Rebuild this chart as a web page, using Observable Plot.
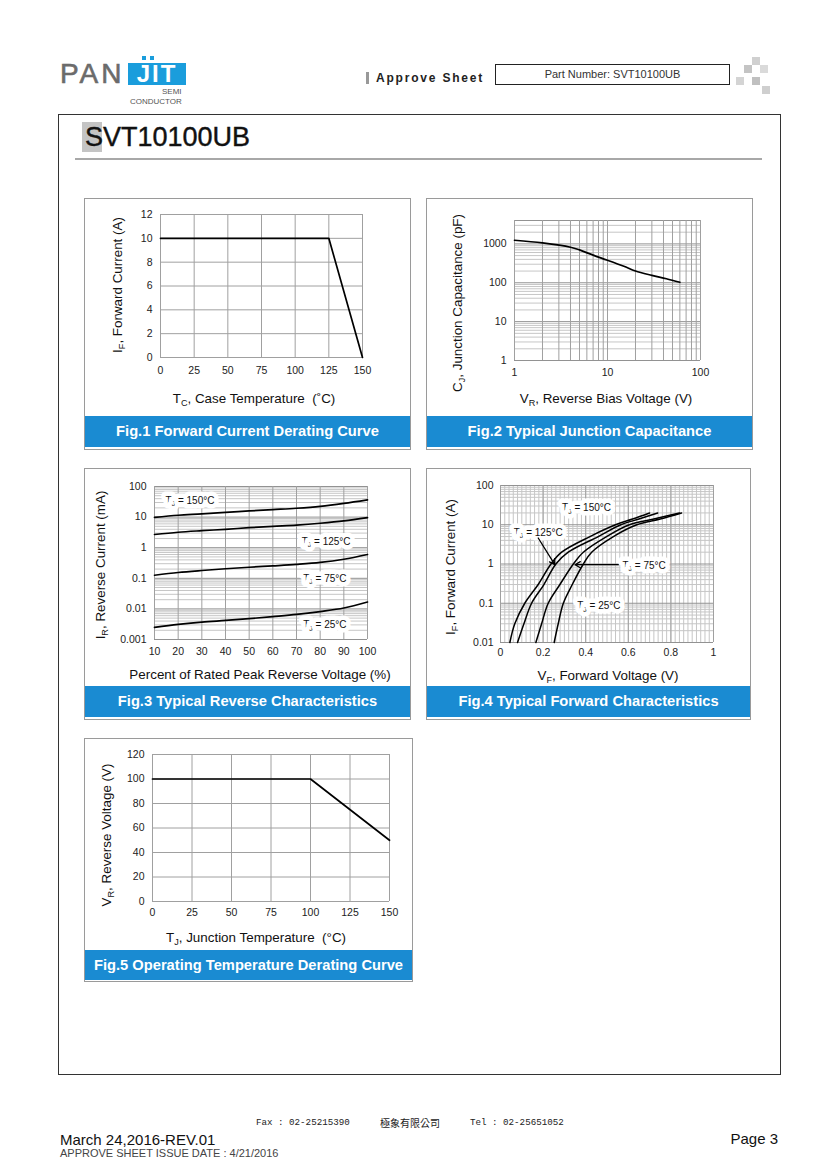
<!DOCTYPE html>
<html><head><meta charset="utf-8">
<script src="https://cdn.jsdelivr.net/npm/d3@7"></script>
<script src="https://cdn.jsdelivr.net/npm/@observablehq/plot@0.6"></script>
<style>
html,body{margin:0;padding:0;background:#fff;}
#page{position:relative;width:820px;height:1167px;overflow:hidden;font-family:"Liberation Sans",Arial,sans-serif;color:#111;}
.box{position:absolute;background:#fff;outline:1px solid #9a9a9a;outline-offset:-1px;}
.box svg{position:absolute;left:0;top:0;}
.banner{position:absolute;left:1px;right:1px;background:#1a8bd2;color:#fff;font-weight:bold;font-size:14.7px;text-align:center;white-space:nowrap;}
.c{position:absolute;white-space:nowrap;transform:translate(-50%,-50%);line-height:1;}
.l{position:absolute;white-space:nowrap;transform:translate(0,-50%);line-height:1;}
.rot{transform:translate(-50%,-50%) rotate(-90deg);}
.ax{font-size:13.4px;color:#111;}
sub{font-size:0.68em;vertical-align:-0.3em;line-height:0;}
.sq{position:absolute;width:8px;height:8px;}
</style></head>
<body><div id="page"></div>
<script>
// ---------------- DATA ----------------
// Fig.1 Forward Current Derating Curve
const fig1TempC = [0, 125, 150];
const fig1CurrentA = [10, 10, 0];
const fig1XTicks = [0, 25, 50, 75, 100, 125, 150];
const fig1YTicks = [0, 2, 4, 6, 8, 10, 12];

// Fig.2 Typical Junction Capacitance
const fig2VoltageV = [1, 2, 4, 5, 7, 10, 15, 20, 30, 43, 60];
const fig2CapPF = [1240, 1060, 820, 700, 515, 380, 265, 200, 155, 127, 103];
const fig2XTicks = [1, 10, 100];
const fig2YTicks = [1, 10, 100, 1000];

// Fig.3 Typical Reverse Characteristics
const fig3Pct = [10, 20, 30, 40, 50, 60, 70, 80, 90, 100];
const fig3IR150 = [9.8, 11.5, 12.7, 14.3, 15.9, 17.6, 19.5, 22.5, 28, 36.5];
const fig3IR125 = [2.7, 3.2, 3.6, 4.0, 4.5, 5.0, 5.5, 6.3, 7.5, 9.6];
const fig3IR75 = [0.126, 0.155, 0.18, 0.205, 0.23, 0.255, 0.285, 0.33, 0.42, 0.6];
const fig3IR25 = [0.0025, 0.0031, 0.0037, 0.0042, 0.0048, 0.0056, 0.0066, 0.0082, 0.0107, 0.0168];
const fig3XTicks = [10, 20, 30, 40, 50, 60, 70, 80, 90, 100];
const fig3YTicks = [0.001, 0.01, 0.1, 1, 10, 100];
const fig3LabelText = ["T_J = 150°C", "T_J = 125°C", "T_J = 75°C", "T_J = 25°C"];
const fig3LabelPct = [25, 82.5, 82, 82];
const fig3LabelIR = [35, 1.57, 0.098, 0.003];

// Fig.4 Typical Forward Characteristics
const fig4IF = [0.01, 0.03, 0.1, 0.3, 1, 2, 5, 10, 14, 20];
const fig4V150 = [0.044, 0.067, 0.114, 0.177, 0.237, 0.287, 0.42, 0.54, 0.62, 0.70];
const fig4V125 = [0.08, 0.11, 0.146, 0.204, 0.26, 0.318, 0.459, 0.565, 0.65, 0.738];
const fig4V75 = [0.166, 0.193, 0.224, 0.279, 0.342, 0.389, 0.498, 0.605, 0.72, 0.84];
const fig4V25 = [0.252, 0.271, 0.295, 0.337, 0.389, 0.428, 0.53, 0.64, 0.75, 0.85];
const fig4XTicks = [0, 0.2, 0.4, 0.6, 0.8, 1];
const fig4YTicks = [0.01, 0.1, 1, 10, 100];
const fig4LabelText = ["T_J = 150°C", "T_J = 125°C", "T_J = 75°C", "T_J = 25°C"];
const fig4LabelV = [0.404, 0.177, 0.674, 0.462];
const fig4LabelIF = [26.5, 6.3, 0.92, 0.085];
const fig4ArrowFromV = [0.177, 0.553];
const fig4ArrowFromIF = [4.6, 0.96];
const fig4ArrowToV = [0.255, 0.35];
const fig4ArrowToIF = [0.96, 0.96];

// Fig.5 Operating Temperature Derating Curve
const fig5TempC = [0, 100, 150];
const fig5VoltageV = [100, 100, 50];
const fig5XTicks = [0, 25, 50, 75, 100, 125, 150];
const fig5YTicks = [0, 20, 40, 60, 80, 100, 120];

// ---------------- HELPERS ----------------
const page = document.getElementById("page");
const FONT = "'Liberation Sans Narrow','Liberation Sans',Arial,sans-serif";
const GRID = "#a0a0a0", MINOR = "#c6c6c6", MAJOR = "#929292";

function el(tag, cls, html, css) {
  const e = document.createElement(tag);
  if (cls) e.className = cls;
  if (html != null) e.innerHTML = html;
  if (css) Object.assign(e.style, css);
  return e;
}
function put(parent, cls, html, x, y, css) {
  const e = el("div", cls, html, Object.assign({left: x + "px", top: y + "px"}, css || {}));
  parent.appendChild(e);
  return e;
}
function logGrid(lo, hi) {
  const out = [];
  for (let e = Math.floor(Math.log10(lo)); Math.pow(10, e) <= hi; e++)
    for (let m = 1; m < 10; m++) {
      const v = +(m * Math.pow(10, e)).toPrecision(3);
      if (v >= lo * 0.999 && v <= hi * 1.001) out.push(v);
    }
  return out;
}
function isDecade(v) { return Math.abs(Math.log10(v) - Math.round(Math.log10(v))) < 1e-9; }
function zip(xs, ys, extra) { return xs.map((x, i) => Object.assign({x, y: ys[i]}, extra || {})); }
function subJ(svg) {
  const ns = "http://www.w3.org/2000/svg";
  svg.querySelectorAll("text").forEach(t => {
    const s = t.textContent;
    if (s.startsWith("T_J")) {
      t.textContent = "";
      const a = document.createElementNS(ns, "tspan"); a.textContent = "T";
      const b = document.createElementNS(ns, "tspan"); b.textContent = "J";
      b.setAttribute("font-size", "7"); b.setAttribute("dy", "2.5");
      const c = document.createElementNS(ns, "tspan"); c.textContent = s.slice(3);
      c.setAttribute("dy", "-2.5");
      t.append(a, b, c);
    }
  });
}
const baseStyle = {fontFamily: FONT, fontSize: "10.5px", color: "#222", background: "transparent", overflow: "visible"};

function box(x, y, w, h, title, bannerTop, bannerH, svg) {
  const b = el("div", "box", null, {left: x + "px", top: y + "px", width: w + "px", height: h + "px"});
  if (svg) b.appendChild(svg);
  b.appendChild(el("div", "banner", title, {top: bannerTop + "px", height: bannerH + "px", lineHeight: bannerH + "px"}));
  page.appendChild(b);
}

// ---------------- HEADER ----------------
put(page, "l", "PAN", 60, 74, {fontSize: "28px", color: "#6b6b6b", letterSpacing: "3px", webkitTextStroke: "0.6px #6b6b6b"});
put(page, "", "JIT", 128, 63, {position: "absolute", width: "58px", height: "22px", background: "#1a9ddc", color: "#fff", fontWeight: "bold", fontSize: "24px", lineHeight: "22px", textAlign: "center", letterSpacing: "2px"});
put(page, "", "", 142, 56, {position: "absolute", width: "4px", height: "4px", background: "#1a9ddc"});
put(page, "", "", 150, 56, {position: "absolute", width: "4px", height: "4px", background: "#1a9ddc"});
put(page, "l", "SEMI", 162, 92, {fontSize: "8px", color: "#555"});
put(page, "l", "CONDUCTOR", 130, 102, {fontSize: "8px", color: "#555"});
put(page, "", "", 366, 72, {position: "absolute", width: "3px", height: "12px", background: "#999"});
put(page, "l", "Approve Sheet", 376, 78, {fontSize: "12px", fontWeight: "bold", letterSpacing: "1.8px", color: "#222"});
put(page, "", "Part Number: SVT10100UB", 495, 64, {position: "absolute", width: "235px", height: "21px", boxSizing: "border-box", border: "1px solid #222", fontSize: "11px", lineHeight: "19px", textAlign: "center", color: "#333"});
[[752, 57, "#d0d0d0"], [744, 65, "#c4c4c4"], [760, 65, "#dadada"], [736, 77, "#d4d4d4"], [752, 77, "#c0c0c0"], [762, 86, "#cfcfcf"]]
  .forEach(([x, y, c]) => put(page, "sq", "", x, y, {background: c}));

// main frame
put(page, "", "", 58, 114, {position: "absolute", width: "723px", height: "961px", boxSizing: "border-box", border: "1px solid #333"});
put(page, "", "", 82, 122, {position: "absolute", width: "20px", height: "30px", background: "#c4c4c4"});
put(page, "", "SVT10100UB", 85, 124, {position: "absolute", fontSize: "27px", lineHeight: "27px", color: "#111", webkitTextStroke: "0.4px #111"});
put(page, "", "", 75, 158, {position: "absolute", width: "687px", height: "2px", background: "#a8a8a8"});

// ---------------- FIG 1 ----------------
const fig1 = Plot.plot({
  width: 327, height: 218, marginLeft: 76, marginRight: 49, marginTop: 16, marginBottom: 59,
  style: baseStyle,
  x: {domain: [0, 150]}, y: {domain: [0, 12]},
  marks: [
    Plot.gridX(fig1XTicks, {stroke: GRID, strokeOpacity: 1}),
    Plot.gridY(fig1YTicks, {stroke: GRID, strokeOpacity: 1}),
    Plot.axisX(fig1XTicks, {tickSize: 0, tickPadding: 9, label: null, tickFormat: String}),
    Plot.axisY(fig1YTicks, {tickSize: 0, tickPadding: 8, label: null, tickFormat: String}),
    Plot.line(zip(fig1TempC, fig1CurrentA), {x: "x", y: "y", stroke: "#000", strokeWidth: 1.7})
  ]
});
box(84, 198, 327, 252, "Fig.1 Forward Current Derating Curve", 218, 31, fig1);
put(page, "c ax", "T<sub>C</sub>, Case Temperature&nbsp; (˚C)", 254, 399);
put(page, "c rot ax", "I<sub>F</sub>, Forward Current (A)", 118, 285);

// ---------------- FIG 2 ----------------
const fig2Grid = logGrid(1, 4000);
const fig2 = Plot.plot({
  width: 327, height: 218, marginLeft: 88, marginRight: 53, marginTop: 22, marginBottom: 56,
  style: baseStyle,
  x: {type: "log", domain: [1, 100]}, y: {type: "log", domain: [1, 4000]},
  marks: [
    Plot.gridY(fig2Grid.filter(v => !isDecade(v)), {stroke: MINOR, strokeOpacity: 1}),
    Plot.gridY(fig2Grid.filter(isDecade).concat([4000]), {stroke: MAJOR, strokeOpacity: 1}),
    Plot.gridX(logGrid(1, 100), {stroke: GRID, strokeOpacity: 1}),
    Plot.axisX(fig2XTicks, {tickSize: 0, tickPadding: 8, label: null, tickFormat: String}),
    Plot.axisY(fig2YTicks, {tickSize: 0, tickPadding: 8, label: null, tickFormat: String}),
    Plot.line(zip(fig2VoltageV, fig2CapPF), {x: "x", y: "y", stroke: "#000", strokeWidth: 1.7, curve: "catmull-rom"})
  ]
});
box(426, 198, 327, 252, "Fig.2 Typical Junction Capacitance", 218, 31, fig2);
put(page, "c ax", "V<sub>R</sub>, Reverse Bias Voltage (V)", 606, 399);
put(page, "c rot ax", "C<sub>J</sub>, Junction Capacitance (pF)", 458, 303);

// ---------------- FIG 3 ----------------
const fig3Grid = logGrid(0.001, 100);
const fig3Series = [].concat(
  zip(fig3Pct, fig3IR150, {s: "150"}), zip(fig3Pct, fig3IR125, {s: "125"}),
  zip(fig3Pct, fig3IR75, {s: "75"}), zip(fig3Pct, fig3IR25, {s: "25"}));
const fig3Labels = fig3LabelText.map((t, i) => ({t, x: fig3LabelPct[i], y: fig3LabelIR[i]}));
const fig3 = Plot.plot({
  width: 327, height: 218, marginLeft: 70, marginRight: 44, marginTop: 18, marginBottom: 47,
  style: baseStyle,
  x: {domain: [10, 100]}, y: {type: "log", domain: [0.001, 100]},
  marks: [
    Plot.gridY(fig3Grid.filter(v => !isDecade(v)), {stroke: MINOR, strokeOpacity: 1}),
    Plot.gridY(fig3Grid.filter(isDecade), {stroke: MAJOR, strokeOpacity: 1}),
    Plot.gridX(fig3XTicks, {stroke: GRID, strokeOpacity: 1}),
    Plot.axisX(fig3XTicks, {tickSize: 0, tickPadding: 8, label: null, tickFormat: String}),
    Plot.axisY(fig3YTicks, {tickSize: 0, tickPadding: 8, label: null, tickFormat: String}),
    Plot.text(fig3Labels, {x: "x", y: "y", text: "t", fill: "#111", stroke: "white", strokeWidth: 9, fontSize: 10}),
    Plot.line(fig3Series, {x: "x", y: "y", z: "s", stroke: "#000", strokeWidth: 1.7, curve: "catmull-rom"})
  ]
});
subJ(fig3);
box(84, 468, 327, 252, "Fig.3 Typical Reverse Characteristics", 218, 31, fig3);
put(page, "c ax", "Percent of Rated Peak Reverse Voltage (%)", 260, 675);
put(page, "c rot ax", "I<sub>R</sub>, Reverse Current (mA)", 101, 565);

// ---------------- FIG 4 ----------------
const fig4Grid = logGrid(0.01, 100);
const fig4Series = [].concat(
  zip(fig4V150, fig4IF, {s: "150"}), zip(fig4V125, fig4IF, {s: "125"}),
  zip(fig4V75, fig4IF, {s: "75"}), zip(fig4V25, fig4IF, {s: "25"}));
const fig4Labels = fig4LabelText.map((t, i) => ({t, x: fig4LabelV[i], y: fig4LabelIF[i]}));
const fig4Arrows = fig4ArrowFromV.map((v, i) => ({x1: v, y1: fig4ArrowFromIF[i], x2: fig4ArrowToV[i], y2: fig4ArrowToIF[i]}));
const fig4VGrid = d3.range(0, 51).map(i => +(i * 0.02).toFixed(2));
const fig4 = Plot.plot({
  width: 325, height: 218, marginLeft: 74, marginRight: 38, marginTop: 17, marginBottom: 44,
  style: baseStyle,
  x: {domain: [0, 1]}, y: {type: "log", domain: [0.01, 100]},
  marks: [
    Plot.gridY(fig4Grid.filter(v => !isDecade(v)), {stroke: MINOR, strokeOpacity: 1}),
    Plot.gridX(fig4VGrid, {stroke: MINOR, strokeOpacity: 1}),
    Plot.gridY(fig4Grid.filter(isDecade), {stroke: MAJOR, strokeOpacity: 1}),
    Plot.gridX(fig4XTicks, {stroke: GRID, strokeOpacity: 1}),
    Plot.axisX(fig4XTicks, {tickSize: 0, tickPadding: 6, label: null, tickFormat: String}),
    Plot.axisY(fig4YTicks, {tickSize: 0, tickPadding: 7, label: null, tickFormat: String}),
    Plot.text(fig4Labels, {x: "x", y: "y", text: "t", fill: "#111", stroke: "white", strokeWidth: 9, fontSize: 10}),
    Plot.line(fig4Series, {x: "x", y: "y", z: "s", stroke: "#000", strokeWidth: 1.5, curve: "catmull-rom"}),
    Plot.arrow(fig4Arrows, {x1: "x1", y1: "y1", x2: "x2", y2: "y2", stroke: "#000", strokeWidth: 1.3, headLength: 7})
  ]
});
subJ(fig4);
box(426, 468, 325, 252, "Fig.4 Typical Forward Characteristics", 218, 31, fig4);
put(page, "c ax", "V<sub>F</sub>, Forward Voltage (V)", 608, 676);
put(page, "c rot ax", "I<sub>F</sub>, Forward Current (A)", 451, 567);

// ---------------- FIG 5 ----------------
const fig5 = Plot.plot({
  width: 329, height: 212, marginLeft: 68, marginRight: 24, marginTop: 16, marginBottom: 49,
  style: baseStyle,
  x: {domain: [0, 150]}, y: {domain: [0, 120]},
  marks: [
    Plot.gridX(fig5XTicks, {stroke: GRID, strokeOpacity: 1}),
    Plot.gridY(fig5YTicks, {stroke: GRID, strokeOpacity: 1}),
    Plot.axisX(fig5XTicks, {tickSize: 0, tickPadding: 7, label: null, tickFormat: String}),
    Plot.axisY(fig5YTicks, {tickSize: 0, tickPadding: 8, label: null, tickFormat: String}),
    Plot.line(zip(fig5TempC, fig5VoltageV), {x: "x", y: "y", stroke: "#000", strokeWidth: 1.7})
  ]
});
box(84, 738, 329, 244, "Fig.5 Operating Temperature Derating Curve", 212, 30, fig5);
put(page, "c ax", "T<sub>J</sub>, Junction Temperature&nbsp; (°C)", 256, 938);
put(page, "c rot ax", "V<sub>R</sub>, Reverse Voltage (V)", 107, 835);

// ---------------- FOOTER ----------------
const mono = {fontFamily: "'Liberation Mono','DejaVu Sans Mono',monospace", fontSize: "9.2px", color: "#222"};
put(page, "l", "Fax : 02-25215390", 256, 1123, mono);
put(page, "l", "極象有限公司", 380, 1123, {fontFamily: "'Noto Sans CJK TC',sans-serif", fontSize: "10px", color: "#222"});
put(page, "l", "Tel : 02-25651052", 470, 1123, mono);
put(page, "l", "March 24,2016-REV.01", 60, 1139, {fontSize: "15px", color: "#111"});
put(page, "", "Page 3", 0, 1131, {position: "absolute", left: "auto", right: "42px", fontSize: "15px", lineHeight: "1", color: "#111"});
put(page, "l", "APPROVE SHEET ISSUE DATE : 4/21/2016", 60, 1153, {fontSize: "11px", color: "#444"});
</script>
</body></html>
